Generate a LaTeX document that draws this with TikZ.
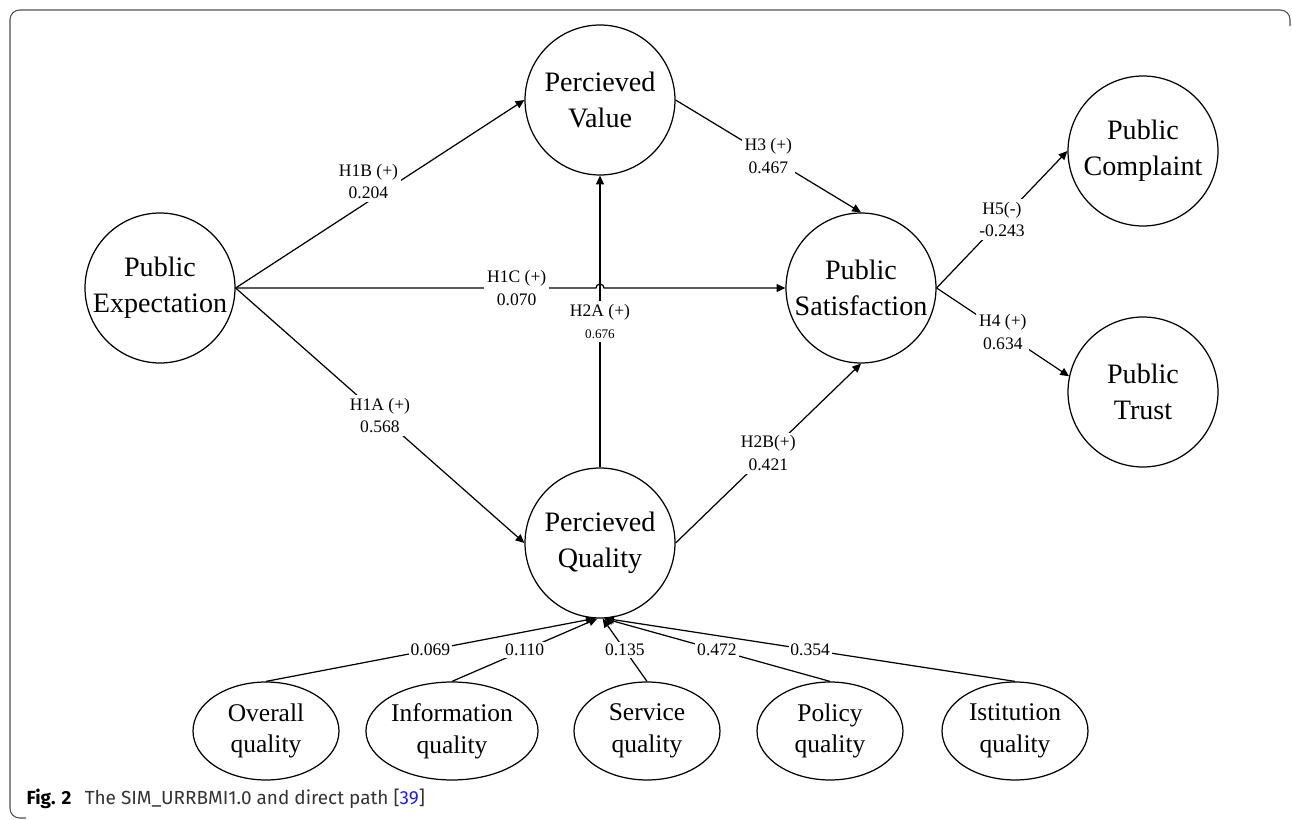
\documentclass[tikz,border=0pt]{standalone}
\usepackage{fontspec}
\setmainfont{Liberation Serif}
\newfontfamily\capfont{Fira Sans}
\usetikzlibrary{arrows.meta,shapes.geometric}
\definecolor{linkblue}{RGB}{30,30,230}
\definecolor{framegray}{RGB}{80,80,80}

\begin{document}
\begin{tikzpicture}[x=0.02cm,y=-0.02cm,line width=0.7pt,
  latent/.style={circle,draw,minimum size=3cm,inner sep=0pt,align=center,
    font=\fontsize{16}{20.5}\selectfont},
  indicator/.style={ellipse,draw,minimum width=2.92cm,minimum height=1.96cm,
    inner sep=0pt,align=center,font=\fontsize{14.5}{18}\selectfont},
  link/.style={-{Triangle[length=5pt,width=4.5pt]}},
  coef/.style={fill=white,inner sep=1.5pt,align=center,
    font=\fontsize{10}{13}\selectfont}]

\useasboundingbox (0,0) rectangle (1292,820);

% Marco
\draw[framegray,line width=0.6pt,rounded corners=5.5pt]
  (1290,26) -- (1290,10) -- (10,10) -- (10,818) -- (26,818);

% Variables latentes
\node[latent] (PE) at (160,288) {Public\\Expectation};
\node[latent] (PV) at (600,100) {Percieved\\Value};
\node[latent] (PQ) at (600,543) {Percieved\\Quality};
\node[latent] (PS) at (861,288) {Public\\Satisfaction};
\node[latent] (PC) at (1143,151) {Public\\Complaint};
\node[latent] (PT) at (1143,392) {Public\\Trust};

% Indicadores
\node[indicator] (OQ) at (266,731) {Overall\\quality};
\node[indicator] (IQ) at (452,731) {Information\\quality};
\node[indicator] (SQ) at (647,731) {Service\\quality};
\node[indicator] (PoQ) at (830,731) {Policy\\quality};
\node[indicator] (IsQ) at (1015,731) {Istitution\\quality};

% Hipotesis
\draw[link] (PE.east) -- node[coef,pos=0.46,yshift=0.4cm] {H1B (+)\\0.204} (PV.west);
\draw[link] (PE.east) -- node[coef] {H1A (+)\\0.568} (PQ.west);
\draw[link] (PQ.north) -- node[coef] {H2A (+)\\{\fontsize{7.5}{9}\selectfont 0.676}} (PV.south);
\coordinate (hop) at (PQ.north |- PE.east);
\draw[link] (PE.east) -- node[coef,pos=0.78] {H1C (+)\\0.070} ([xshift=-0.08cm]hop)
  arc[start angle=180,end angle=0,radius=0.08cm] -- (PS.west);
\draw[link] (PV.east) -- node[coef] {H3 (+)\\0.467} (PS.north);
\draw[link] (PQ.east) -- node[coef] {H2B(+)\\0.421} (PS.south);
\draw[link] (PS.east) -- node[coef] {H5(-)\\-0.243} (PC.west);
\draw[link] (PS.east) -- node[coef] {H4 (+)\\0.634} (PT.168);

% Pesos
\foreach \src/\tgt/\val in {OQ/-94/0.069,IQ/-92/0.110,SQ/-88/0.135,PoQ/-87/0.472,IsQ/-86/0.354}
  \draw[link] (\src.north) -- node[coef,inner sep=1pt] {\val} (PQ.\tgt);

% Leyenda
\node[anchor=west,inner sep=0pt,text=black!80,font=\capfont\fontsize{10.8}{12}\selectfont] (cap) at (26,799)
  {\textcolor{black}{\textbf{Fig. 2}}\hspace{0.7em}The SIM\_URRBMI1.0 and direct path [\textcolor{linkblue}{39}]};

\end{tikzpicture}
\end{document}
